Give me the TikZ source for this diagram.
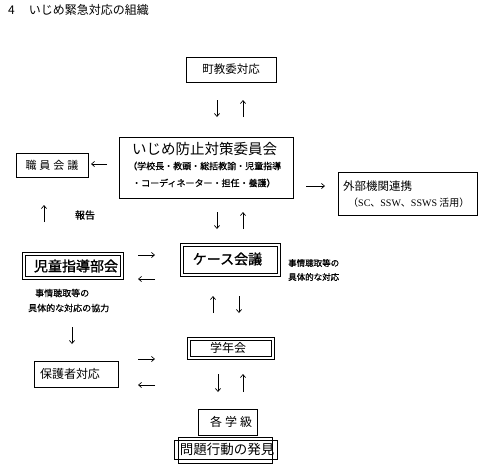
\documentclass[tikz,border=0pt]{standalone}
\usepackage{fontspec}
\setmainfont{Noto Sans CJK JP}
\newfontfamily\jpb[FakeBold=1.2]{Noto Sans CJK JP}
\newfontfamily\jpl[FakeBold=0.6]{Noto Sans CJK JP}
\newfontfamily\lserif{Liberation Serif}
\usetikzlibrary{arrows.meta}
\newcommand{\fs}[1]{\fontsize{#1}{#1}\selectfont}
\begin{document}
\begin{tikzpicture}[x=1pt,y=-1pt,
  box/.style={draw, line width=0.8pt, inner sep=0pt},
  dbox/.style={draw, line width=0.7pt, double, double distance=2.6pt, inner sep=0pt},
  txt/.style={inner sep=0pt},
  arr/.style={line width=0.7pt, -{Straight Barb[length=3pt,width=5pt]}}]
\useasboundingbox[fill=white] (0,0) rectangle (480,466);

% title
\node[txt, anchor=west] (title) at (8,10) {\fs{12}4\hspace{14pt}いじめ緊急対応の組織};

% town board
\node[box, minimum width=90pt, minimum height=25pt] (mach) at (231,69.5) {\fs{11.5}町教委対応};
\coordinate (m1) at (217,100); \coordinate (m2) at (217,117);
\coordinate (m3) at (243,117); \coordinate (m4) at (243,100);
\draw[arr] (m1) -- (m2);
\draw[arr] (m3) -- (m4);

% committee
\node[box, minimum width=174pt, minimum height=61pt] (iinkai) at (206,167.5) {};
\node[txt, anchor=west] (it) at (132,149) {\fs{14.5}いじめ防止対策委員会};
\node[txt, anchor=west] (is1) at (128,166) {\jpl\fs{9}（学校長・教頭・総括教諭・児童指導};
\node[txt, anchor=west] (is2) at (132,183) {\jpl\fs{9}・コーディネーター・担任・養護）};

% staff meeting
\node[box, minimum width=72pt, minimum height=24pt] (shokuin) at (52,165) {\fs{11}職\hspace{3pt}員\hspace{3pt}会\hspace{3pt}議};
\coordinate (s1) at (107,164); \coordinate (s2) at (91,164);
\draw[arr] (s1) -- (s2);
\coordinate (h1) at (44,222); \coordinate (h2) at (44,205);
\draw[arr] (h1) -- (h2);
\node[txt] (hokoku) at (85,215) {\jpl\fs{10}報告};

% external
\coordinate (g1) at (306,186); \coordinate (g2) at (325,186);
\draw[arr] (g1) -- (g2);
\node[box, minimum width=139pt, minimum height=43pt] (gaibu) at (407.5,194) {};
\node[txt, anchor=west] (gt) at (343,186) {\fs{11.5}外部機関連携};
\node[txt, anchor=west] (gs) at (348,203) {\fs{10}（{\lserif SC}、{\lserif SSW}、{\lserif SSWS} 活用）};

% committee <-> case
\coordinate (c1) at (217,212); \coordinate (c2) at (217,229);
\coordinate (c3) at (243,229); \coordinate (c4) at (243,212);
\draw[arr] (c1) -- (c2);
\draw[arr] (c3) -- (c4);

% jido shido bukai
\node[dbox, minimum width=98pt, minimum height=24pt] (jido) at (73,266) {};
\node[txt] (jt) at (76,266) {\jpb\fs{14}児童指導部会};
\coordinate (j1) at (138,255); \coordinate (j2) at (155,255);
\coordinate (j3) at (155,279); \coordinate (j4) at (138,279);
\draw[arr] (j1) -- (j2);
\draw[arr] (j3) -- (j4);
\node[txt, anchor=west] (jl1) at (35,293) {\jpl\fs{9}事情聴取等の};
\node[txt, anchor=west] (jl2) at (28,308) {\jpl\fs{9}具体的な対応の協力};
\coordinate (jd1) at (72,327); \coordinate (jd2) at (72,344);
\draw[arr] (jd1) -- (jd2);

% case meeting
\node[dbox, minimum width=97pt, minimum height=30pt] (case) at (230.5,260) {};
\node[txt] (ct) at (227.5,259) {\jpb\fs{14}ケース会議};
\node[txt, anchor=west] (cl1) at (288,263) {\jpl\fs{8.5}事情聴取等の};
\node[txt, anchor=west] (cl2) at (288,277) {\jpl\fs{8.5}具体的な対応};
\coordinate (k1) at (213,313); \coordinate (k2) at (213,296);
\coordinate (k3) at (239,296); \coordinate (k4) at (239,313);
\draw[arr] (k1) -- (k2);
\draw[arr] (k3) -- (k4);

% grade meeting
\node[dbox, minimum width=84pt, minimum height=19pt] (gakunen) at (231,348.5) {};
\node[txt] (gnt) at (228,348) {\fs{12}学年会};
\coordinate (p1) at (138,359); \coordinate (p2) at (155,359);
\coordinate (p3) at (155,385); \coordinate (p4) at (138,385);
\draw[arr] (p1) -- (p2);
\draw[arr] (p3) -- (p4);

% guardians
\node[box, minimum width=84pt, minimum height=26pt] (hogo) at (76,374) {};
\node[txt] (ht) at (70,374) {\fs{12}保護者対応};

% grade -> class
\coordinate (q1) at (218,374); \coordinate (q2) at (218,392);
\coordinate (q3) at (243,392); \coordinate (q4) at (243,374);
\draw[arr] (q1) -- (q2);
\draw[arr] (q3) -- (q4);

% each class
\node[box, line width=0.9pt, minimum width=59pt, minimum height=26pt] (gakkyu) at (227.5,422) {};
\node[txt] (gkt) at (231,422) {\fs{12}各\hspace{3pt}学\hspace{3pt}級};

% discovery
\node[box, minimum width=103pt, minimum height=19pt] (hakken1) at (225.5,449.5) {};
\node[box, minimum width=94pt, minimum height=26pt] (hakken2) at (225,450) {};
\node[txt] (hkt) at (227,449.5) {\fs{13.5}問題行動の発見};
\end{tikzpicture}
\end{document}
